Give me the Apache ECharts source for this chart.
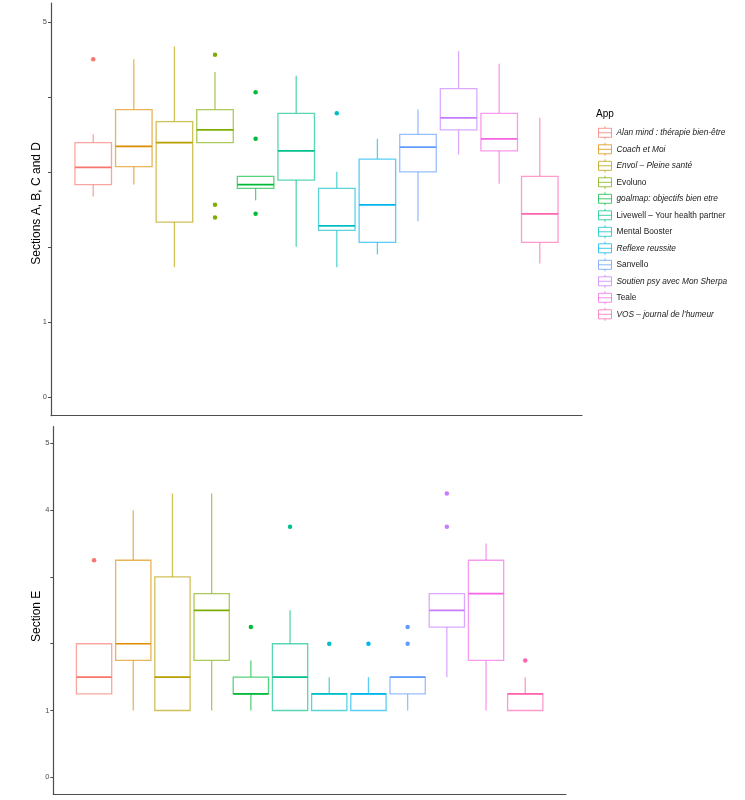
<!DOCTYPE html>
<html><head><meta charset="utf-8">
<script src="https://cdn.jsdelivr.net/npm/echarts@6/dist/echarts.min.js"></script>
<style>html,body{margin:0;padding:0;background:#fff}#c{width:745px;height:800px}</style>
</head><body><div id="c"></div>
<script>
// ---- data ----
const apps = [
  'Alan mind : thérapie bien-être',
  'Coach et Moi',
  'Envol – Pleine santé',
  'Evoluno',
  'goalmap: objectifs bien etre',
  'Livewell – Your health partner',
  'Mental Booster',
  'Reflexe reussite',
  'Sanvello',
  'Soutien psy avec Mon Sherpa',
  'Teale',
  'VOS – journal de l\u2019humeur'
];
const appItalic = [true, true, true, false, true, false, false, true, false, true, false, true];
const colors = ['#F8766D','#DE8C00','#B79F00','#7CAE00','#00BA38','#00C08B','#00BFC4','#00B4F0','#619CFF','#C77CFF','#F564E3','#FF64B0'];

// [min, Q1, median, Q3, max] per app — Sections A, B, C and D
const topStats = [
  [2.67, 2.83, 3.06, 3.39, 3.50],
  [2.83, 3.07, 3.34, 3.83, 4.50],
  [1.73, 2.33, 3.39, 3.67, 4.67],
  [3.39, 3.39, 3.56, 3.83, 4.33],
  [2.62, 2.78, 2.83, 2.94, 2.94],
  [2.00, 2.89, 3.28, 3.78, 4.28],
  [1.73, 2.22, 2.28, 2.78, 3.00],
  [1.90, 2.06, 2.56, 3.17, 3.44],
  [2.34, 3.00, 3.33, 3.50, 3.83],
  [3.23, 3.56, 3.72, 4.11, 4.61],
  [2.84, 3.28, 3.44, 3.78, 4.44],
  [1.78, 2.06, 2.44, 2.94, 3.72]
];
// [appIndex, value]
const topOutliers = [
  [0, 4.50],
  [3, 4.56], [3, 2.56], [3, 2.39],
  [4, 4.06], [4, 3.44], [4, 2.44],
  [6, 3.78]
];

// Section E
const bottomStats = [
  [1.25, 1.25, 1.50, 2.00, 2.00],
  [1.00, 1.75, 2.00, 3.25, 4.00],
  [1.00, 1.00, 1.50, 3.00, 4.25],
  [1.00, 1.75, 2.50, 2.75, 4.25],
  [1.00, 1.25, 1.25, 1.50, 1.75],
  [1.00, 1.00, 1.50, 2.00, 2.50],
  [1.00, 1.00, 1.25, 1.25, 1.50],
  [1.00, 1.00, 1.25, 1.25, 1.50],
  [1.00, 1.25, 1.50, 1.50, 1.50],
  [1.50, 2.25, 2.50, 2.75, 2.75],
  [1.00, 1.75, 2.75, 3.25, 3.50],
  [1.00, 1.00, 1.25, 1.25, 1.50]
];
const bottomOutliers = [
  [0, 3.25],
  [4, 2.25],
  [5, 3.75],
  [6, 2.00],
  [7, 2.00],
  [8, 2.25], [8, 2.00],
  [9, 4.25], [9, 3.75],
  [11, 1.75]
];

const yTicks = [0, 1, 2, 3, 4, 5];
const topTickLabels = ['0', '1', '', '', '', '5'];
const bottomTickLabels = ['0', '1', '', '', '4', '5'];
const topTitle = 'Sections A, B, C and D';
const bottomTitle = 'Section E';
const legendTitle = 'App';

// ---- drawing ----
const FONT = 'Liberation Sans, Arial, sans-serif';
const BOX_W = 0.9;
function rgba(hex, a) {
  const n = parseInt(hex.slice(1), 16);
  return 'rgba(' + ((n >> 16) & 255) + ',' + ((n >> 8) & 255) + ',' + (n & 255) + ',' + a + ')';
}
function makeRender(idx) {
  return function (params, api) {
    const x = api.value(0);
    const lo = api.coord([x, api.value(1)]);
    const q1 = api.coord([x, api.value(2)]);
    const md = api.coord([x, api.value(3)]);
    const q3 = api.coord([x, api.value(4)]);
    const hi = api.coord([x, api.value(5)]);
    const xl = api.coord([x - BOX_W / 2, 0])[0];
    const xr = api.coord([x + BOX_W / 2, 0])[0];
    const cx = lo[0];
    const c = colors[idx];
    const light = rgba(c, 0.65);
    return {
      type: 'group',
      children: [
        { type: 'line', shape: { x1: cx, y1: hi[1], x2: cx, y2: q3[1] }, style: { stroke: light, lineWidth: 1.3 } },
        { type: 'line', shape: { x1: cx, y1: q1[1], x2: cx, y2: lo[1] }, style: { stroke: light, lineWidth: 1.3 } },
        { type: 'rect', shape: { x: xl, y: q3[1], width: xr - xl, height: q1[1] - q3[1] }, style: { fill: '#fff', stroke: light, lineWidth: 1.3 } },
        { type: 'line', shape: { x1: xl, y1: md[1], x2: xr, y2: md[1] }, style: { stroke: c, lineWidth: 1.7 } }
      ]
    };
  };
}

const grids = [
  { left: 51, right: 163, top: 3, height: 412.7 },
  { left: 53.3, right: 179, top: 426.7, bottom: 6 }
];
const axisColor = '#4d4d4d';
function xAxisFor(i) {
  return {
    type: 'value', gridIndex: i, min: -1.04, max: 12.04,
    axisLine: { show: true, onZero: false, lineStyle: { color: axisColor, width: 1.2 } },
    axisTick: { show: false }, axisLabel: { show: false }, splitLine: { show: false }
  };
}
function yAxisFor(i, labels, title, gap, pad) {
  return {
    type: 'value', gridIndex: i, min: -0.25, max: 5.25,
    axisLine: { show: true, onZero: false, lineStyle: { color: axisColor, width: 1.2 } },
    axisTick: { show: true, customValues: yTicks, length: 3, lineStyle: { color: axisColor, width: 1 } },
    axisLabel: {
      customValues: yTicks, margin: 4, fontSize: 7.5, color: axisColor, fontFamily: FONT,
      formatter: function (v) { const k = yTicks.indexOf(Math.round(v)); return k >= 0 ? labels[k] : ''; }
    },
    splitLine: { show: false },
    name: title, nameLocation: 'middle', nameGap: gap, nameMoveOverlap: false,
    nameTextStyle: { fontSize: 12, color: '#000', fontFamily: FONT, padding: pad }
  };
}

const series = [];
[[topStats, topOutliers], [bottomStats, bottomOutliers]].forEach(function (pair, p) {
  const stats = pair[0], outs = pair[1];
  stats.forEach(function (s, i) {
    series.push({
      type: 'custom', name: apps[i], xAxisIndex: p, yAxisIndex: p,
      data: [[i].concat(s)],
      encode: { x: 0, y: [1, 2, 3, 4, 5] },
      renderItem: makeRender(i),
      itemStyle: { color: '#fff', borderColor: rgba(colors[i], 0.7), borderWidth: 1 },
      silent: true
    });
  });
  series.push({
    type: 'scatter', name: 'outliers' + p, xAxisIndex: p, yAxisIndex: p,
    data: outs, symbolSize: 4.5, silent: true,
    itemStyle: { color: function (prm) { return colors[prm.data[0]]; }, opacity: 1 }
  });
});

const ICON = 'path://M6.5,0L6.5,2M0,2L13,2L13,11L0,11ZM0,6.5L13,6.5M6.5,11L6.5,13';

const option = {
  animation: false,
  backgroundColor: '#fff',
  textStyle: { fontFamily: FONT },
  title: {
    text: legendTitle, left: 596, top: 109, padding: 0,
    textStyle: { fontSize: 10, fontWeight: 'normal', color: '#000', fontFamily: FONT }
  },
  grid: grids,
  xAxis: [xAxisFor(0), xAxisFor(1)],
  yAxis: [
    yAxisFor(0, topTickLabels, topTitle, 8.5, [0, 0, 0, 12]),
    yAxisFor(1, bottomTickLabels, bottomTitle, 10.5, [0, 12, 0, 0])
  ],
  legend: {
    orient: 'vertical', left: 598, top: 125.8, padding: 0,
    itemWidth: 13, itemHeight: 13, itemGap: 2.5, selectedMode: false,
    textStyle: { fontSize: 8.3, color: '#1a1a1a', fontFamily: FONT },
    data: apps.map(function (n, i) {
      return {
        name: n, icon: ICON,
        itemStyle: { color: '#fff', borderColor: rgba(colors[i], 0.75), borderWidth: 1 },
        textStyle: { fontStyle: appItalic[i] ? 'italic' : 'normal' }
      };
    })
  },
  series: series
};
const chart = echarts.init(document.getElementById('c'), null, { renderer: 'canvas' });
chart.setOption(option);
</script>
</body></html>
